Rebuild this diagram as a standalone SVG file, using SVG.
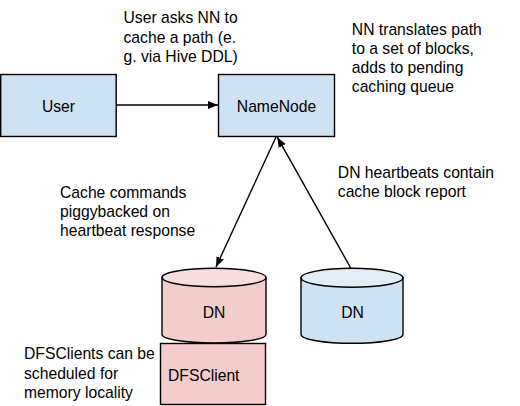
<svg xmlns="http://www.w3.org/2000/svg" width="520" height="406" viewBox="0 0 520 406">
<style>
  .t { font-family: "Liberation Sans", Arial, sans-serif; font-size: 15.7px; fill: #000; }
  .c { text-anchor: middle; }
  .box { stroke: #000; stroke-width: 1.4; }
  .blue { fill: #cfe2f3; }
  .blueTop { fill: #e2edf8; }
  .pink { fill: #f4cccc; }
  .pinkTop { fill: #f8dedf; }
  .edge { stroke: #000; stroke-width: 1.4; fill: none; }
</style>
<defs>
  <marker id="arr" viewBox="0 0 10 10" refX="10" refY="5" markerWidth="10" markerHeight="10" markerUnits="userSpaceOnUse" orient="auto">
    <path d="M0,1 L10,5 L0,9 Z" fill="#000"/>
  </marker>
</defs>
<rect width="520" height="406" fill="#fff"/>

<g id="user">
  <rect class="box blue" x="0.7" y="74.5" width="115.5" height="62"/>
  <text class="t c" x="58.5" y="111.5">User</text>
</g>

<g id="namenode">
  <rect class="box blue" x="218.5" y="74.5" width="116" height="62"/>
  <text class="t c" x="276.5" y="111.5">NameNode</text>
</g>

<g id="dn1">
  <path class="box pink" d="M162,277.5 L162,334.5 A52,8.5 0 0 0 266,334.5 L266,277.5 Z"/>
  <ellipse class="box pinkTop" cx="214" cy="277.5" rx="52" ry="9.2"/>
  <text class="t c" x="214" y="317.5">DN</text>
</g>

<g id="dn2">
  <path class="box blue" d="M301,277.8 L301,334.5 A51,8.8 0 0 0 403,334.5 L403,277.8 Z"/>
  <ellipse class="box blueTop" cx="352" cy="277.8" rx="51" ry="9.5"/>
  <text class="t c" x="352.5" y="317.5">DN</text>
</g>

<g id="dfsclient">
  <rect class="box pink" x="160.5" y="343.5" width="105" height="61"/>
  <text class="t" x="168" y="381">DFSClient</text>
</g>

<g id="connectors">
  <line class="edge" x1="116" y1="105" x2="218" y2="105" marker-end="url(#arr)"/>
  <line class="edge" x1="276" y1="137" x2="216" y2="267" marker-end="url(#arr)"/>
  <line class="edge" x1="351" y1="268.5" x2="277.3" y2="137.2" marker-end="url(#arr)"/>
</g>

<g id="labels">
  <text class="t" x="123.5" y="23.3">User asks NN to</text>
  <text class="t" x="123.5" y="42.8">cache a path (e.</text>
  <text class="t" x="123.5" y="62.2">g. via Hive DDL)</text>

  <text class="t" x="351.8" y="35">NN translates path</text>
  <text class="t" x="351.8" y="54">to a set of blocks,</text>
  <text class="t" x="351.8" y="73">adds to pending</text>
  <text class="t" x="351.8" y="92">caching queue</text>

  <text class="t" x="60" y="198.3">Cache commands</text>
  <text class="t" x="60" y="217">piggybacked on</text>
  <text class="t" x="60" y="235.6">heartbeat response</text>

  <text class="t" x="337.8" y="178">DN heartbeats contain</text>
  <text class="t" x="337.8" y="197.2">cache block report</text>

  <text class="t" x="24" y="359.3">DFSClients can be</text>
  <text class="t" x="24" y="378.6">scheduled for</text>
  <text class="t" x="24" y="397.8">memory locality</text>
</g>
</svg>
